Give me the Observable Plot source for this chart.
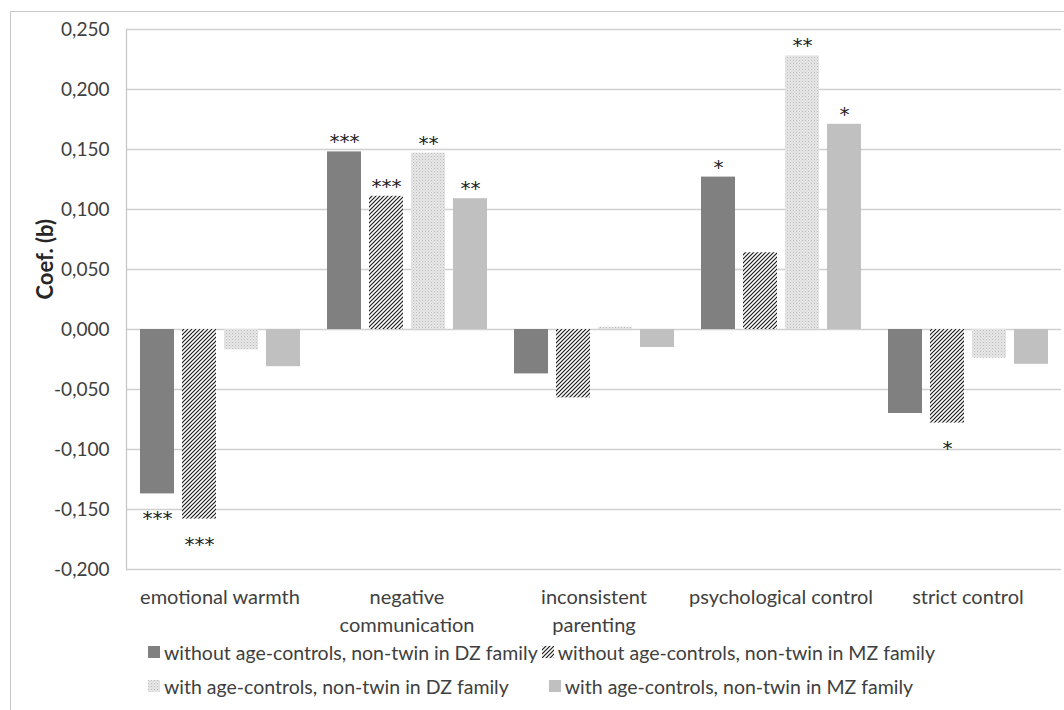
<!DOCTYPE html>
<html><head><meta charset="utf-8">
<script src="https://cdn.jsdelivr.net/npm/d3@7"></script>
<script src="https://cdn.jsdelivr.net/npm/@observablehq/plot@0.6"></script>
<style>
html,body{margin:0;padding:0;background:#fff;overflow:hidden;width:1064px;height:710px;}
#frame{position:absolute;left:10px;top:11px;width:1200px;height:800px;border-left:1px solid #c8c8c8;border-top:1px solid #c8c8c8;}
#chart{position:absolute;left:0;top:0;}
#legend{position:absolute;left:0;top:0;font-family:Lato,sans-serif;font-size:19.5px;color:#404040;}
.row{position:absolute;display:flex;white-space:nowrap;height:24px;}
.item{display:flex;align-items:center;white-space:nowrap;height:24px;}
.item svg{margin-right:4px;}
</style></head><body>
<div id="frame"></div>
<div id="chart"></div>
<div id="legend"></div>
<script>
// ---- data ----
const categories = ["emotional warmth", "negative communication", "inconsistent parenting", "psychological control", "strict control"];
const categoryLabels = ["emotional warmth", "negative\ncommunication", "inconsistent\nparenting", "psychological control", "strict control"];
const series = [
  "without age-controls, non-twin in DZ family",
  "without age-controls, non-twin in MZ family",
  "with age-controls, non-twin in DZ family",
  "with age-controls, non-twin in MZ family"
];
const valuesNoAgeDZ = [-0.137, 0.148, -0.037, 0.127, -0.070];
const valuesNoAgeMZ = [-0.158, 0.111, -0.057, 0.064, -0.078];
const valuesAgeDZ   = [-0.017, 0.147,  0.002, 0.228, -0.024];
const valuesAgeMZ   = [-0.031, 0.109, -0.015, 0.171, -0.029];
const starsNoAgeDZ = ["***", "***", "", "*", ""];
const starsNoAgeMZ = ["***", "***", "", "", "*"];
const starsAgeDZ   = ["", "**", "", "**", ""];
const starsAgeMZ   = ["", "**", "", "*", ""];
const yTicks = [-0.2, -0.15, -0.1, -0.05, 0, 0.05, 0.1, 0.15, 0.2, 0.25];
const yTitle = "Coef. (b)";

// ---- build table ----
const valueArrays = [valuesNoAgeDZ, valuesNoAgeMZ, valuesAgeDZ, valuesAgeMZ];
const starArrays = [starsNoAgeDZ, starsNoAgeMZ, starsAgeDZ, starsAgeMZ];
const rows = categories.flatMap((c, i) => series.map((s, j) => ({
  category: c, series: s, value: valueArrays[j][i], stars: starArrays[j][i]
})));

const fills = ["#808080", "url(#hatch)", "url(#dots)", "#c0c0c0"];
const fmt = d3.formatLocale({decimal: ",", thousands: ".", grouping: [3], currency: ["", ""], minus: "-"}).format(".3f");
const font = "Lato, sans-serif";

const plot = Plot.plot({
  width: 1064, height: 645,
  marginLeft: 125, marginRight: 2, marginTop: 29, marginBottom: 76,
  style: {fontFamily: font, color: "#404040", background: "transparent", overflow: "visible"},
  facet: {data: rows, x: "category"},
  fx: {domain: categories, padding: 0, label: null},
  x: {domain: series, paddingInner: 0.2, paddingOuter: 0.29, axis: null},
  y: {domain: [-0.2, 0.25], label: null},
  marks: [
    Plot.gridY(yTicks, {stroke: "#d0d0d0", strokeOpacity: 1, strokeWidth: 1.3}),
    Plot.frame({anchor: "left", facetAnchor: "left", stroke: "#c8c8c8", strokeWidth: 1.3}),
    ...series.map((s, j) => Plot.barY(rows, {filter: d => d.series === s, x: "series", y: "value", fill: fills[j]})),
    Plot.text(rows, {filter: d => d.stars && d.value >= 0, x: "series", y: "value", text: "stars", dy: -10, fontSize: 20, fontFamily: "DejaVu Sans", fill: "#222"}),
    Plot.text(rows, {filter: d => d.stars && d.value < 0, x: "series", y: "value", text: "stars", dy: 25, fontSize: 20, fontFamily: "DejaVu Sans", fill: "#222"}),
    Plot.axisY(yTicks, {tickFormat: fmt, tickSize: 0, tickPadding: 17, fontSize: 19, label: null}),
    Plot.text([yTitle], {frameAnchor: "left", facetAnchor: "left", rotate: -90, dx: -81, fontSize: 22, fontWeight: "bold", fill: "#262626"}),
    Plot.axisFx({anchor: "bottom", tickSize: 0, tickPadding: 15, fontSize: 20, lineHeight: 1.4, label: null,
      tickFormat: c => categoryLabels[categories.indexOf(c)]})
  ]
});

// patterns
const defs = d3.select(plot).insert("defs", ":first-child");
const hatch = defs.append("pattern").attr("id", "hatch").attr("patternUnits", "userSpaceOnUse").attr("width", 4).attr("height", 4);
hatch.append("rect").attr("width", 4).attr("height", 4).attr("fill", "#fff");
hatch.append("path").attr("d", "M-1,1 l2,-2 M0,4 l4,-4 M3,5 l2,-2").attr("stroke", "#1e1e1e").attr("stroke-width", 1.2);
const dots = defs.append("pattern").attr("id", "dots").attr("patternUnits", "userSpaceOnUse").attr("width", 3).attr("height", 3);
dots.append("rect").attr("width", 3).attr("height", 3).attr("fill", "#e6e6e6");
dots.append("rect").attr("width", 1).attr("height", 1).attr("fill", "#bdbdbd");
dots.append("rect").attr("x", 1.5).attr("y", 1.5).attr("width", 1).attr("height", 1).attr("fill", "#cecece");

document.getElementById("chart").appendChild(plot);

// legend: two rows
const legend = d3.select("#legend");
const rowDefs = [
  {left: 148, top: 640, items: [0, 1], gaps: [0, 4]},
  {left: 148, top: 674, items: [2, 3], gaps: [0, 40]}
];
rowDefs.forEach(r => {
  const row = legend.append("div").attr("class", "row").style("left", r.left + "px").style("top", r.top + "px");
  r.items.forEach((j, k) => {
    const item = row.append("div").attr("class", "item").style("margin-left", r.gaps[k] + "px");
    const sw = item.append("svg").attr("width", 12).attr("height", 12);
    sw.append("rect").attr("width", 12).attr("height", 12).attr("fill", fills[j]);
    item.append("span").text(series[j]);
  });
});
</script>
</body></html>
